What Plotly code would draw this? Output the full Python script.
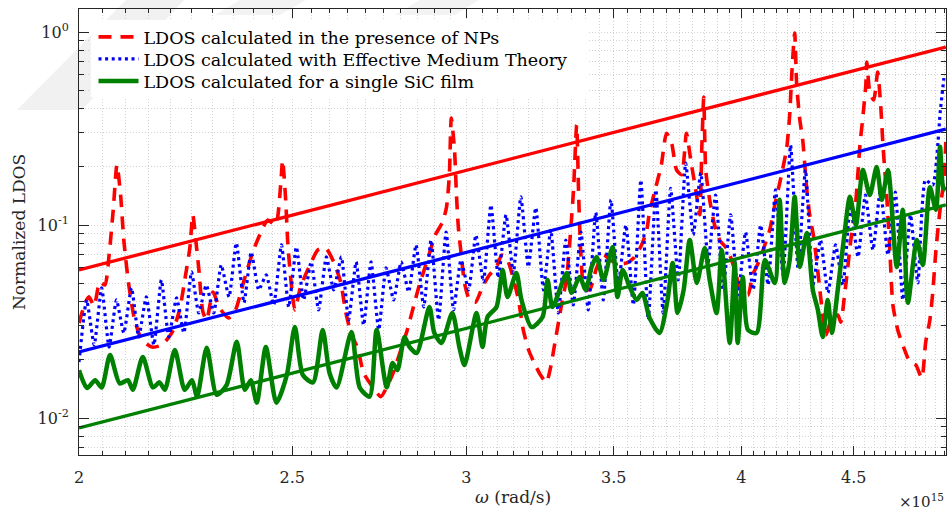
import plotly.graph_objects as go

# ---------------- data (x in units of 1e15 rad/s) ----------------
RED_X = [2.000, 2.013, 2.021, 2.032, 2.044, 2.055, 2.064, 2.073, 2.081, 2.089,
         2.096, 2.107, 2.120, 2.136, 2.159, 2.181, 2.204, 2.222, 2.236, 2.246,
         2.253, 2.260, 2.267, 2.277, 2.286, 2.301, 2.317, 2.339, 2.356, 2.376,
         2.399, 2.422, 2.437, 2.457, 2.470, 2.475, 2.483, 2.488, 2.496, 2.507,
         2.522, 2.547, 2.568, 2.589, 2.611, 2.630, 2.644, 2.660, 2.677, 2.694,
         2.716, 2.743, 2.763, 2.779, 2.803, 2.820, 2.839, 2.856, 2.880, 2.904,
         2.926, 2.938, 2.947, 2.953, 2.963, 2.969, 2.975, 2.984, 2.994, 3.010,
         3.029, 3.051, 3.073, 3.096, 3.113, 3.129, 3.148, 3.168, 3.184, 3.202,
         3.222, 3.242, 3.262, 3.276, 3.293, 3.314, 3.332, 3.346, 3.356, 3.367,
         3.374, 3.381, 3.392, 3.413, 3.438, 3.463, 3.488, 3.518, 3.548, 3.574,
         3.600, 3.622, 3.634, 3.653, 3.679, 3.699, 3.719, 3.738, 3.758, 3.777,
         3.794, 3.814, 3.830, 3.838, 3.846, 3.854, 3.870, 3.890, 3.911, 3.944,
         3.973, 3.998, 4.028, 4.048, 4.074, 4.100, 4.121, 4.143, 4.169, 4.195,
         4.208, 4.217, 4.230, 4.239, 4.253, 4.266, 4.275, 4.284, 4.297, 4.315,
         4.329, 4.343, 4.356, 4.370, 4.398, 4.425, 4.439, 4.458, 4.472, 4.486,
         4.505, 4.519, 4.529, 4.543, 4.557, 4.562, 4.576, 4.595, 4.614, 4.630,
         4.639, 4.649, 4.659, 4.673, 4.688, 4.712, 4.742, 4.772, 4.802, 4.832,
         4.852, 4.873, 4.888, 4.904, 4.925, 4.946, 4.955]
RED_Y = [0.0311, 0.0395, 0.0424, 0.0381, 0.0507, 0.0489, 0.0699, 0.120, 0.205, 0.143,
         0.0836, 0.0489, 0.0322, 0.0254, 0.0233, 0.0239, 0.0276, 0.0363, 0.0551, 0.0760,
         0.113, 0.0836, 0.0599, 0.0354, 0.0322, 0.0450, 0.0372, 0.0330, 0.0363, 0.0507,
         0.0725, 0.0942, 0.106, 0.100, 0.161, 0.217, 0.135, 0.0836, 0.0532, 0.0363,
         0.0478, 0.0621, 0.0742, 0.0760, 0.0644, 0.0507, 0.0354, 0.0270, 0.0231, 0.0171,
         0.0148, 0.0129, 0.0148, 0.0172, 0.0231, 0.0286, 0.0381, 0.0489, 0.0659, 0.0887,
         0.1035, 0.123, 0.182, 0.358, 0.245, 0.143, 0.0965, 0.0699, 0.0501, 0.0409,
         0.0399, 0.0478, 0.0551, 0.0606, 0.0699, 0.0675, 0.0551, 0.0409, 0.0286, 0.0225,
         0.0191, 0.0167, 0.0153, 0.0182, 0.0254, 0.0385, 0.0532, 0.0942, 0.152, 0.330,
         0.143, 0.0742, 0.0489, 0.0461, 0.0599, 0.0699, 0.0659, 0.0628, 0.0636, 0.0675,
         0.0769, 0.0920, 0.117, 0.148, 0.205, 0.299, 0.265, 0.193, 0.182, 0.299,
         0.217, 0.152, 0.113, 0.245, 0.460, 0.193, 0.135, 0.100, 0.0836, 0.0742,
         0.0585, 0.0461, 0.0434, 0.0551, 0.0644, 0.0788, 0.0942, 0.127, 0.175, 0.251,
         0.371, 0.598, 0.988, 0.531, 0.350, 0.275, 0.205, 0.152, 0.113, 0.0866,
         0.0644, 0.0461, 0.0342, 0.0269, 0.0330, 0.0342, 0.0314, 0.0445, 0.0606, 0.0836,
         0.116, 0.182, 0.259, 0.363, 0.531, 0.699, 0.488, 0.444, 0.620, 0.394,
         0.265, 0.188, 0.135, 0.0742, 0.0385, 0.0286, 0.0231, 0.0195, 0.0188, 0.0161,
         0.0248, 0.0322, 0.0450, 0.0742, 0.120, 0.175, 0.269]

BLUE_X = [2.000, 2.016, 2.032, 2.048, 2.064, 2.080, 2.096, 2.113, 2.129, 2.146,
          2.163, 2.180, 2.197, 2.215, 2.232, 2.250, 2.267, 2.285, 2.303, 2.321,
          2.340, 2.358, 2.377, 2.395, 2.414, 2.433, 2.452, 2.472, 2.491, 2.511,
          2.530, 2.550, 2.570, 2.591, 2.611, 2.632, 2.652, 2.673, 2.694, 2.715,
          2.737, 2.758, 2.780, 2.802, 2.824, 2.846, 2.869, 2.891, 2.914, 2.937,
          2.960, 2.983, 3.007, 3.030, 3.054, 3.078, 3.102, 3.127, 3.151, 3.176,
          3.201, 3.226, 3.252, 3.277, 3.303, 3.329, 3.355, 3.382, 3.408, 3.435,
          3.462, 3.490, 3.517, 3.545, 3.573, 3.601, 3.629, 3.658, 3.686, 3.715,
          3.745, 3.774, 3.804, 3.834, 3.864, 3.894, 3.925, 3.956, 3.987, 4.018,
          4.050, 4.082, 4.114, 4.146, 4.179, 4.212, 4.245, 4.278, 4.312, 4.346,
          4.380, 4.415, 4.449, 4.484, 4.520, 4.555, 4.591, 4.627, 4.664, 4.700,
          4.737, 4.775, 4.812, 4.850, 4.888, 4.927, 4.945]
BLUE_Y = [0.0195, 0.0409, 0.0239, 0.0472, 0.0233, 0.0409, 0.0276, 0.0472, 0.0263, 0.0424,
          0.0239, 0.0519, 0.0263, 0.0419, 0.0276, 0.0571, 0.0350, 0.0489, 0.0350, 0.0621,
          0.0424, 0.0807, 0.0395, 0.0725, 0.0461, 0.0551, 0.0385, 0.0788, 0.0376, 0.0769,
          0.0409, 0.0644, 0.0363, 0.0683, 0.0461, 0.0683, 0.0322, 0.0644, 0.0303, 0.0644,
          0.0286, 0.0599, 0.0409, 0.0644, 0.0450, 0.0788, 0.0376, 0.0836, 0.0322, 0.0920,
          0.0363, 0.0659, 0.0461, 0.0887, 0.0507, 0.127, 0.0532, 0.113, 0.0564, 0.140,
          0.0606, 0.123, 0.0461, 0.0942, 0.0350, 0.0836, 0.0385, 0.0920, 0.0363, 0.116,
          0.0409, 0.135, 0.0489, 0.100, 0.0385, 0.171, 0.0322, 0.152, 0.0350, 0.155,
          0.0519, 0.209, 0.0887, 0.186, 0.0644, 0.143, 0.0461, 0.113, 0.0434, 0.0920,
          0.0461, 0.100, 0.0489, 0.152, 0.0551, 0.259, 0.0599, 0.193, 0.0489, 0.0836,
          0.0445, 0.0788, 0.0489, 0.127, 0.0683, 0.143, 0.0742, 0.152, 0.0699, 0.148,
          0.0409, 0.113, 0.0501, 0.171, 0.161, 0.394, 0.577]

GREEN_X = [2.000, 2.017, 2.034, 2.048, 2.066, 2.087, 2.105, 2.116, 2.138, 2.161,
           2.176, 2.188, 2.211, 2.234, 2.251, 2.263, 2.286, 2.310, 2.334, 2.359,
           2.379, 2.394, 2.409, 2.432, 2.459, 2.486, 2.507, 2.528, 2.555, 2.581,
           2.600, 2.619, 2.660, 2.683, 2.711, 2.731, 2.760, 2.777, 2.791, 2.812,
           2.827, 2.848, 2.886, 2.901, 2.923, 2.956, 2.978, 2.994, 3.032, 3.051,
           3.067, 3.096, 3.116, 3.132, 3.161, 3.178, 3.212, 3.249, 3.266, 3.283,
           3.332, 3.349, 3.378, 3.399, 3.420, 3.438, 3.463, 3.496, 3.514, 3.533,
           3.559, 3.585, 3.607, 3.634, 3.672, 3.703, 3.723, 3.742, 3.766, 3.790,
           3.818, 3.850, 3.870, 3.898, 3.919, 3.952, 3.973, 3.985, 4.007, 4.028,
           4.065, 4.100, 4.143, 4.164, 4.186, 4.208, 4.230, 4.253, 4.284, 4.311,
           4.334, 4.356, 4.379, 4.398, 4.425, 4.453, 4.482, 4.510, 4.543, 4.576,
           4.609, 4.634, 4.664, 4.707, 4.737, 4.762, 4.807, 4.837, 4.873, 4.904,
           4.925, 4.941, 4.955]
GREEN_Y = [0.0177, 0.0143, 0.0157, 0.0144, 0.0212, 0.0151, 0.0157, 0.0140, 0.0207, 0.0144,
           0.0153, 0.0140, 0.0225, 0.0140, 0.0157, 0.0129, 0.0231, 0.0132, 0.0148, 0.0248,
           0.0140, 0.0157, 0.0120, 0.0233, 0.0120, 0.0167, 0.0296, 0.0167, 0.0153, 0.0286,
           0.0170, 0.0144, 0.0279, 0.0144, 0.0129, 0.0286, 0.0144, 0.0193, 0.0177, 0.0263,
           0.0233, 0.0217, 0.0376, 0.0276, 0.0245, 0.0350, 0.0233, 0.0188, 0.0350, 0.0233,
           0.0334, 0.0376, 0.0585, 0.0424, 0.0564, 0.0409, 0.0296, 0.0334, 0.0519, 0.0376,
           0.0564, 0.0445, 0.0538, 0.0461, 0.0606, 0.0683, 0.0519, 0.0769, 0.0424, 0.0585,
           0.0478, 0.0409, 0.0445, 0.0330, 0.0276, 0.0409, 0.0636, 0.0350, 0.0461, 0.0836,
           0.0501, 0.0760, 0.0519, 0.0350, 0.0742, 0.0245, 0.0636, 0.0245, 0.0538, 0.0286,
           0.0276, 0.0659, 0.0501, 0.135, 0.0501, 0.0659, 0.140, 0.0606, 0.0909, 0.0461,
           0.0363, 0.0263, 0.0409, 0.0276, 0.0461, 0.0836, 0.140, 0.100, 0.193, 0.143,
           0.200, 0.135, 0.193, 0.0606, 0.120, 0.0395, 0.0836, 0.0621, 0.157, 0.120,
           0.254, 0.157, 0.152]

# reference power-law lines (end points)
FIT_X = [2.0, 4.955]
RED_FIT_Y = [0.0585, 0.836]
BLUE_FIT_Y = [0.0220, 0.314]
GREEN_FIT_Y = [0.00888, 0.127]

X_TICKS = [2, 2.5, 3, 3.5, 4, 4.5]
X_TICK_TEXT = ["2", "2.5", "3", "3.5", "4", "4.5"]
Y_TICKS = [0.01, 0.1, 1]
Y_TICK_TEXT = ["10<sup>-2</sup>", "10<sup>-1</sup>", "10<sup>0</sup>"]

NAMES = ["LDOS calculated in the presence of NPs",
         "LDOS calculated with Effective Medium Theory",
         "LDOS calculated for a single SiC film"]

RED, BLUE, GREEN = "#ff0000", "#0000ff", "#008000"
AXC = "#262626"
GRID = "#d2d2d2"
FONT = "DejaVu Serif"

x_minor = [round(2 + 0.05 * i, 2) for i in range(0, 60)]
x_minor = [v for v in x_minor if v not in X_TICKS]
y_minor = [k * 10 ** e for e in (-3, -2, -1, 0) for k in range(2, 10)]

fig = go.Figure()
fig.add_trace(go.Scatter(x=RED_X, y=RED_Y, mode="lines", name=NAMES[0], legend="legend",
                         line=dict(color=RED, width=3.6, dash="13px,9px",
                                   shape="spline", smoothing=0.6)))
fig.add_trace(go.Scatter(x=BLUE_X, y=BLUE_Y, mode="lines", name=NAMES[1], legend="legend2",
                         line=dict(color=BLUE, width=3.2, dash="3px,3.6px",
                                   shape="spline", smoothing=0.5)))
fig.add_trace(go.Scatter(x=GREEN_X, y=GREEN_Y, mode="lines", name=NAMES[2], legend="legend3",
                         line=dict(color=GREEN, width=4.5, shape="spline", smoothing=0.7)))
for fy, col in ((RED_FIT_Y, RED), (BLUE_FIT_Y, BLUE), (GREEN_FIT_Y, GREEN)):
    fig.add_trace(go.Scatter(x=FIT_X, y=fy, mode="lines", showlegend=False,
                             line=dict(color=col, width=3.3)))

axis_common = dict(
    type="log", showline=True, linecolor=AXC, linewidth=1, mirror="ticks",
    ticks="inside", tickcolor=AXC, tickwidth=1,
    showgrid=True, gridcolor=GRID, gridwidth=1, griddash="1px,2px",
    zeroline=False, tickfont=dict(family=FONT, size=16, color=AXC),
    tickmode="array",
)
fig.update_xaxes(**axis_common, range=[0.30103, 0.69513],
                 tickvals=X_TICKS, ticktext=X_TICK_TEXT, ticklen=9,
                 ticklabelstandoff=8,
                 minor=dict(tickmode="array", tickvals=x_minor, ticks="inside",
                            ticklen=4, tickcolor=AXC, showgrid=True,
                            gridcolor=GRID, griddash="1px,2px"))
fig.update_yaxes(**axis_common, range=[-2.1917, 0.1192],
                 tickvals=Y_TICKS, ticktext=Y_TICK_TEXT, ticklen=10,
                 ticklabelstandoff=6,
                 minor=dict(tickmode="array", tickvals=y_minor, ticks="inside",
                            ticklen=5, tickcolor=AXC, showgrid=True,
                            gridcolor=GRID, griddash="1px,2px"))

# plot geometry in px (for positioning decorations)
L, T, W, H = 79, 9, 867, 446


def px(xp):
    return (xp - L) / W


def py(yp):
    return (T + H - yp) / H


leg_common = dict(xanchor="left", yanchor="middle", bgcolor="rgba(0,0,0,0)", borderwidth=0,
                  itemwidth=40, font=dict(family=FONT, size=17.5, color="black"))
legx = px(93.5)

shapes = [
    # faint watermark bands (background decoration)
    dict(type="path", xref="paper", yref="paper", layer="below",
         path=f"M {px(17)} {py(110)} L {px(82)} {py(110)} L {px(184)} {py(0)} L {px(126)} {py(0)} Z",
         fillcolor="#f1f1f1", line=dict(width=0)),
    dict(type="path", xref="paper", yref="paper", layer="below",
         path=f"M {px(215)} {py(15)} L {px(280)} {py(15)} L {px(306)} {py(0)} L {px(240)} {py(0)} Z",
         fillcolor="#f3f3f3", line=dict(width=0)),
    dict(type="path", xref="paper", yref="paper", layer="below",
         path=f"M {px(395)} {py(15)} L {px(455)} {py(15)} L {px(479)} {py(0)} L {px(420)} {py(0)} Z",
         fillcolor="#f3f3f3", line=dict(width=0)),
    # white box behind the legend entries (no data lies there; hides grid)
    dict(type="rect", xref="paper", yref="paper", layer="above",
         x0=px(91), x1=px(588), y0=py(97), y1=py(20),
         fillcolor="white", line=dict(width=0)),
]

fig.update_layout(
    width=951, height=512,
    margin=dict(l=L, r=951 - L - W, t=T, b=512 - T - H),
    paper_bgcolor="white", plot_bgcolor="rgba(0,0,0,0)",
    font=dict(family=FONT, color="black"),
    legend=dict(x=legx, y=py(37), **leg_common),
    legend2=dict(x=legx, y=py(59), **leg_common),
    legend3=dict(x=legx, y=py(81), **leg_common),
    shapes=shapes,
    annotations=[
        dict(text="<i>ω</i> (rad/s)", x=0.5, xref="paper", y=py(497), yref="paper",
             showarrow=False, font=dict(family=FONT, size=17, color=AXC),
             xanchor="center", yanchor="middle"),
        dict(text="Normalized LDOS", x=px(19), xref="paper", y=0.5, yref="paper",
             showarrow=False, textangle=-90, font=dict(family=FONT, size=17, color=AXC),
             xanchor="center", yanchor="middle"),
        dict(text="×10<sup>15</sup>", x=1.0, xref="paper", y=py(501), yref="paper",
             showarrow=False, font=dict(family=FONT, size=15, color=AXC),
             xanchor="right", yanchor="middle"),
    ],
)

fig.write_html("out.html")
